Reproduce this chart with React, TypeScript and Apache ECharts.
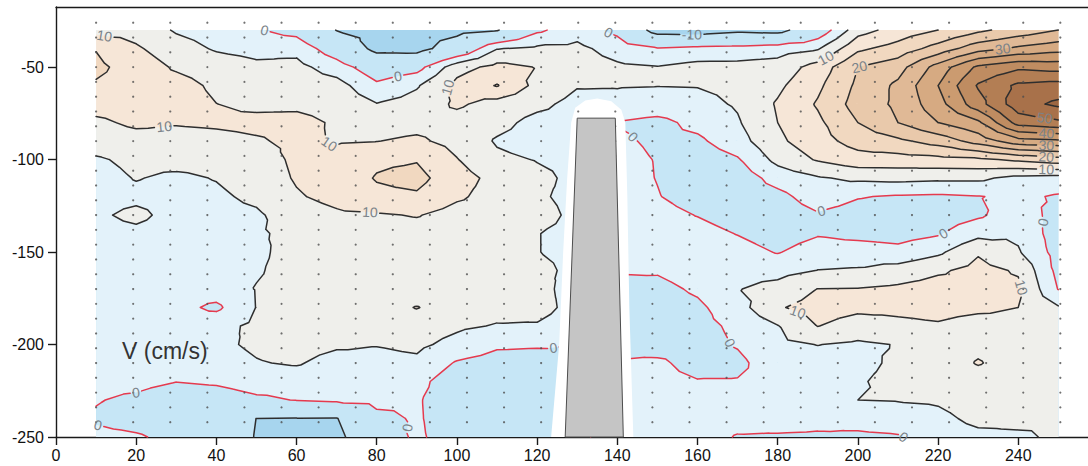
import { useEffect, useRef } from "react";
import * as echarts from "echarts";

// Gridded measurement section: stations across the channel (cm) and depths (cm)
const stationX = [10, 20, 30, 40, 50, 60, 70, 80, 90, 100, 110, 120, 130, 140, 150, 160, 170, 180, 190, 200, 210, 220, 230, 240, 250];
const depthY = [-30, -40, -50, -60, -70, -80, -90, -100, -110, -120, -130, -140, -150, -160, -170, -180, -190, -200, -210, -220, -230, -240, -250];

// Velocity V (cm/s), one row per depth, one value per station
const vAt030 = [8.5, 8, 4.5, 3, 0.5, -2, -10.2, -12.5, -12.5, -12, -10.5, -1, 3, -1.5, -13, -13.5, -11.5, -12.5, -4, 8, 12, 15, 19, 22, 25];
const vAt040 = [14.8, 10.7, 7, 4.5, 3.5, 3.5, -3.5, -12, -12.5, -6, 4.8, 6, 6.2, 3, 0.5, 1.5, 2, 3, 4.5, 14, 17, 22, 28, 31, 33];
const vAt050 = [16, 13, 9.3, 7.5, 6, 6.5, 2.5, -3.5, -2, 8, 11.5, 9.8, 7.5, 5.8, 5.2, 6.5, 6.5, 7, 12, 20, 23, 32, 41, 44, 43];
const vAt060 = [14.5, 13, 12, 9, 8, 8, 7, 1, 4.5, 11.5, 15.3, 8.5, 5.3, 5.2, 5.1, 5.2, 6, 9, 14, 21, 26, 35, 45.5, 51, 52];
const vAt070 = [12, 12.5, 12.5, 10.05, 9, 9.2, 8.5, 5.2, 7, 10.8, 8, 6.2, 3.5, 4, 3, 3.5, 5.5, 10.5, 15.5, 22, 26, 33, 43, 53, 56];
const vAt080 = [9, 11, 10.4, 10.8, 11.2, 11.2, 9.5, 8, 8.5, 8, 6.5, 3.5, 3, -0.3, -1.5, 1.5, 4.5, 10, 14, 20, 25, 30, 34, 47, 49];
const vAt090 = [7, 8, 8, 8.5, 9.5, 11, 9.6, 9.9, 10.8, 8.5, 4.5, 3, 3, 1, -1, -1, 3, 9, 13, 17, 19, 22, 27, 33, 34];
const vAt100 = [4.5, 6, 6.5, 6.5, 7.5, 11, 11.5, 14.2, 14.7, 10.2, 6, 4.8, 4, 2, -0.3, -3, -0.5, 6.5, 10.5, 13, 13, 13.5, 14, 16, 18];
const vAt110 = [3.5, 5.2, 4.2, 5.2, 7, 10.5, 12.5, 15.3, 16.5, 12, 8.5, 6, 4, 2.5, -0.2, -3.5, -3, 2, 4.5, 6, 6.5, 6, 6, 3.5, 3];
const vAt120 = [3.5, 4, 3.5, 4.2, 6, 9.5, 11.5, 14, 14.3, 10.8, 8, 5.5, 4, 3, 0.3, -2.5, -3.5, -1.5, 2.5, 0.3, -0.5, -0.8, -0.2, 1, -0.5];
const vAt130 = [4.3, 6, 3.5, 3.5, 4.3, 7.5, 9.2, 9.5, 10.3, 8, 7.5, 6.5, 4, 3, 2, -0.2, -2.5, -3, -0.5, -2, -2.5, -2.5, -0.8, 3, -2];
const vAt140 = [3.5, 4, 3, 3.5, 4.5, 6, 7.5, 8, 8, 7.5, 7, 5.1, 4, 3, 2.5, 2, -0.2, -2.5, -0.5, -1.5, -2, -0.5, 3.5, 4, -2.5];
const vAt150 = [3, 3, 3, 3.5, 4.2, 6.5, 7, 7.5, 7.5, 7.5, 6.5, 5.1, 4, 2, 2, 3, 2, -0.3, 2.5, 2.5, 1.5, 4, 9.5, 5.5, -2];
const vAt160 = [3, 3, 3, 3.5, 4.6, 6.5, 6.5, 7.5, 7.5, 7.5, 6.5, 6, 4, 0.3, 0.5, 2.5, 3.5, 3.5, 5.1, 5.5, 7, 9.3, 11.5, 9.5, -1.5];
const vAt170 = [3, 2.5, 2.5, 2.5, 5.2, 6.5, 6.5, 7.5, 7.5, 7.5, 7, 6.5, 3, -1, -1.5, 0.8, 4.8, 6.5, 10.1, 10.2, 11, 12, 11.5, 11, -0.2];
const vAt180 = [3, 2.5, 1.5, -1, 5.1, 7, 7, 8, 10.2, 7.5, 6.5, 7, 3, -2, -2.5, -1, 3, 9.5, 12, 11, 11, 11.5, 11, 10, 5.5];
const vAt190 = [2.5, 2.5, 2.5, 3.5, 6, 7, 7, 7.5, 7.5, 5.8, 4.7, 4.5, 2, -2, -3, -1.5, 1, 4.8, 10.1, 8, 9, 9.5, 8, 8.5, 7];
const vAt200 = [2.5, 2.5, 2.5, 4, 5.8, 7, 5.8, 5.2, 6, 3.5, 0.8, 0.5, 0, -1.5, -2.5, -2, 0.4, 4, 5.1, 4.2, 5.2, 8, 9, 8, 7];
const vAt210 = [2, 2.5, 2.5, 3, 4.7, 5.5, 3, 3.5, 4, -0.5, -2, -2, -1, 0.5, 1, -2, -1.2, 3, 3, 3.5, 6, 7.5, 10.3, 8, 7];
const vAt220 = [1.5, 1.5, 0.1, 0.8, 2.5, 2, 2, 2, 1.5, -3, -3, -3, -1, 1.5, 1.5, 0.3, 0.3, 2, 3, 4.5, 6.5, 7, 8, 7.5, 7];
const vAt230 = [0.3, -1, -3, -3, -1, 0.2, 1.1, 1.5, 0.5, -3, -3.5, -3, -1, 2, 1.5, 1.5, 1.5, 2.5, 3.5, 5, 5.2, 5.5, 7, 7, 6];
const vAt240 = [-0.6, -2, -3, -6, -10.05, -10.2, -10.3, -1.5, 0.6, -3, -3.5, -3, -1, 2, 2, 2, 1.5, 2, 1.5, 2, 3, 4, 6, 5.8, 5.2];
const vAt250 = [1.2, 0.6, -1.5, -6, -10.3, -12, -12, -3, 0.8, -2.5, -3, -3, -1, 2, 2, 2, -0.3, -0.5, -0.7, -1, -0.5, 3, 4, 4.5, 5.5];

const velocityRows = [
  vAt030, vAt040, vAt050, vAt060, vAt070, vAt080, vAt090, vAt100, vAt110, vAt120, vAt130, vAt140,
  vAt150, vAt160, vAt170, vAt180, vAt190, vAt200, vAt210, vAt220, vAt230, vAt240, vAt250,
];

// Contour levels and the fill used above each one (first colour is below the lowest level)
const contourLevels = [-10, 0, 5, 10, 15, 20, 25, 30, 35, 40, 45, 50, 55];
const bandColors = [
  "#a7d5ee", "#c6e6f6", "#e3f2fa", "#efefeb", "#f6e6d7", "#f1d8c0", "#e9c9ab",
  "#e0b996", "#d6aa82", "#cb9b70", "#bf8c61", "#b37e54", "#a8714a", "#9d6742",
];

// Measurement points of the survey
const dotStations = [10, 19.25, 28.5, 37.75, 47, 56.25, 65.5, 74.75, 84, 93.25, 102.5, 111.75, 121, 130.25, 139.5, 148.75, 158, 167.25, 176.5, 185.75, 195, 204.25, 213.5, 222.75, 232, 241.25, 250.5];
const dotDepths = [-26, -34, -42, -50, -58, -66, -74, -82, -90, -98, -106, -114, -122, -130, -138, -146, -154, -162, -170, -178, -186, -194, -202, -210, -218, -226, -234, -242];

// Axis ticks
const xTickValues = [0, 20, 40, 60, 80, 100, 120, 140, 160, 180, 200, 220, 240];
const yTickValues = [-250, -200, -150, -100, -50];

// Where contour values are written: [station, depth, level]
const contourLabels: [number, number, number][] = [
  [12, -34, 10], [27, -82.5, 10], [50, -31.5, 0], [85.3, -55, 0], [96, -60, 10],
  [67.6, -93.2, 10], [78.3, -128.4, 10], [137.5, -32.5, 0], [158.6, -31.5, -10],
  [191, -41, 10], [200.5, -51, 20], [236, -38, 30],
  [246.5, -78.6, 50], [247, -86.8, 40], [247, -93, 30], [247, -98.6, 20], [247, -104, 10],
  [143.6, -88.4, 0], [191, -128.4, 0], [221.2, -139.5, 0], [249, -135, 0],
  [241, -169, 10], [184.3, -186.8, 10], [168, -199.2, 0], [20, -226.5, 0],
  [10.5, -243.5, 0], [87.8, -245, 0], [124, -201, 0], [213.7, -248, 0],
];

// Bridge pier and the unsurveyed zone around it
const pierX = [127, 130, 139.5, 141.5];
const pierY = [-250, -77.6, -77.6, -250];
const clearanceX = [123.5, 125.5, 126.5, 127.5, 128.5, 129.5, 132, 135, 138.5, 141, 142, 142.5, 143, 144];
const clearanceY = [-250, -200, -150, -110, -80, -72, -68, -67, -68.5, -73, -80, -120, -180, -250];

const FONT = '"Liberation Sans", Arial, Helvetica, sans-serif';
const LINE_DARK = "#2e2e2e";
const LINE_ZERO = "#e53a4e";
const LABEL_INK = "#7b8389";

type Pt = [number, number, number];
type Seg = [number, number, number, number];
type Coord = (p: number[]) => number[];

function clipAbove(poly: Pt[], level: number): Pt[] {
  const out: Pt[] = [];
  for (let i = 0; i < poly.length; i++) {
    const a = poly[i];
    const b = poly[(i + 1) % poly.length];
    const ain = a[2] >= level;
    const bin = b[2] >= level;
    if (ain) out.push(a);
    if (ain !== bin) {
      const t = (level - a[2]) / (b[2] - a[2]);
      out.push([a[0] + t * (b[0] - a[0]), a[1] + t * (b[1] - a[1]), level]);
    }
  }
  return out;
}

function levelCrossing(tri: Pt[], level: number): Seg | null {
  const pts: number[][] = [];
  for (let k = 0; k < 3; k++) {
    const a = tri[k];
    const b = tri[(k + 1) % 3];
    if ((a[2] >= level) !== (b[2] >= level)) {
      const t = (level - a[2]) / (b[2] - a[2]);
      pts.push([a[0] + t * (b[0] - a[0]), a[1] + t * (b[1] - a[1])]);
    }
  }
  return pts.length === 2 ? [pts[0][0], pts[0][1], pts[1][0], pts[1][1]] : null;
}

type Gap = { x: number; y: number; r: number };

function cutSegment(s: Seg, gaps: Gap[]): Seg[] {
  const dx = s[2] - s[0];
  const dy = s[3] - s[1];
  const A = dx * dx + dy * dy;
  let parts: [number, number][] = [[0, 1]];
  if (A === 0) return [];
  for (const c of gaps) {
    const fx = s[0] - c.x;
    const fy = s[1] - c.y;
    const B = 2 * (fx * dx + fy * dy);
    const C = fx * fx + fy * fy - c.r * c.r;
    const disc = B * B - 4 * A * C;
    if (disc <= 0) continue;
    const sq = Math.sqrt(disc);
    const t1 = (-B - sq) / (2 * A);
    const t2 = (-B + sq) / (2 * A);
    const next: [number, number][] = [];
    for (const [a, b] of parts) {
      if (t2 <= a || t1 >= b) {
        next.push([a, b]);
        continue;
      }
      if (t1 > a) next.push([a, t1]);
      if (t2 < b) next.push([t2, b]);
    }
    parts = next;
  }
  return parts.map(([a, b]) => [s[0] + a * dx, s[1] + a * dy, s[0] + b * dx, s[1] + b * dy] as Seg);
}

const f = (n: number) => n.toFixed(1);

function buildGeometry(coord: Coord) {
  const nx = stationX.length;
  const ny = depthY.length;
  const px = stationX.map((x) => coord([x, depthY[0]])[0]);
  const py = depthY.map((y) => coord([stationX[0], y])[1]);
  const node = (i: number, j: number): Pt => [px[i], py[j], velocityRows[j][i]];

  // four triangles per cell around the cell centre
  const cellTris: Pt[][][] = [];
  for (let j = 0; j < ny - 1; j++) {
    for (let i = 0; i < nx - 1; i++) {
      const a = node(i, j), b = node(i + 1, j), c = node(i + 1, j + 1), d = node(i, j + 1);
      const m: Pt = [(a[0] + b[0]) / 2, (a[1] + d[1]) / 2, (a[2] + b[2] + c[2] + d[2]) / 4];
      cellTris.push([[a, b, m], [b, c, m], [c, d, m], [d, a, m]]);
    }
  }

  const base = `M${f(px[0])} ${f(py[0])}L${f(px[nx - 1])} ${f(py[0])}L${f(px[nx - 1])} ${f(py[ny - 1])}L${f(px[0])} ${f(py[ny - 1])}Z`;

  const fills = contourLevels.map((level) => {
    let d = "";
    for (let j = 0; j < ny - 1; j++) {
      let runStart = -1;
      for (let i = 0; i <= nx - 1; i++) {
        const full =
          i < nx - 1 &&
          Math.min(velocityRows[j][i], velocityRows[j][i + 1], velocityRows[j + 1][i], velocityRows[j + 1][i + 1]) >= level;
        if (full) {
          if (runStart < 0) runStart = i;
          continue;
        }
        if (runStart >= 0) {
          d += `M${f(px[runStart])} ${f(py[j])}L${f(px[i])} ${f(py[j])}L${f(px[i])} ${f(py[j + 1])}L${f(px[runStart])} ${f(py[j + 1])}Z`;
          runStart = -1;
        }
        if (i === nx - 1) break;
        for (const tri of cellTris[j * (nx - 1) + i]) {
          const poly = clipAbove(tri, level);
          if (poly.length < 3) continue;
          d += "M" + poly.map((p) => `${f(p[0])} ${f(p[1])}`).join("L") + "Z";
        }
      }
    }
    return d;
  });

  const segments: Seg[][] = contourLevels.map((level) => {
    const out: Seg[] = [];
    for (const tris of cellTris) {
      for (const tri of tris) {
        const s = levelCrossing(tri, level);
        if (s) out.push(s);
      }
    }
    return out;
  });

  const labels = contourLabels.map(([lx, ly, level]) => {
    const k = contourLevels.indexOf(level);
    const [tx, ty] = coord([lx, ly]);
    let best: { x: number; y: number; s: Seg } | null = null;
    let bestD = Infinity;
    for (const s of segments[k] || []) {
      const dx = s[2] - s[0];
      const dy = s[3] - s[1];
      const L2 = dx * dx + dy * dy || 1;
      let t = ((tx - s[0]) * dx + (ty - s[1]) * dy) / L2;
      t = Math.max(0, Math.min(1, t));
      const cx = s[0] + t * dx;
      const cy = s[1] + t * dy;
      const dd = (cx - tx) ** 2 + (cy - ty) ** 2;
      if (dd < bestD) {
        bestD = dd;
        best = { x: cx, y: cy, s };
      }
    }
    let x = tx, y = ty, rotation = 0;
    if (best && bestD < 30 * 30) {
      x = best.x;
      y = best.y;
      let rot = -Math.atan2(best.s[3] - best.s[1], best.s[2] - best.s[0]);
      while (rot > Math.PI / 2) rot -= Math.PI;
      while (rot <= -Math.PI / 2) rot += Math.PI;
      rotation = rot;
    }
    const text = String(level);
    const width = text.replace("-", "").length * 7.8 + (text.startsWith("-") ? 4.7 : 0);
    return { x, y, rotation, text, k, r: width / 2 + 2 };
  });

  const lines = segments.map((segs, k) => {
    const gaps = labels.filter((l) => l.k === k);
    let d = "";
    for (const s of segs) {
      for (const p of cutSegment(s, gaps)) d += `M${f(p[0])} ${f(p[1])}L${f(p[2])} ${f(p[3])}`;
    }
    return d;
  });

  return { base, fills, lines, labels };
}

function renderField(_params: any, api: any) {
  const coord: Coord = (p) => api.coord(p);
  const g = buildGeometry(coord);
  const children: any[] = [];
  children.push({ type: "path", shape: { pathData: g.base }, style: { fill: bandColors[0] } });
  g.fills.forEach((d, k) => {
    if (d) children.push({ type: "path", shape: { pathData: d }, style: { fill: bandColors[k + 1] } });
  });
  g.lines.forEach((d, k) => {
    if (!d) return;
    children.push({
      type: "path",
      shape: { pathData: d },
      style: {
        fill: "none",
        stroke: contourLevels[k] === 0 ? LINE_ZERO : LINE_DARK,
        lineWidth: 1.5,
        lineCap: "round",
        lineJoin: "round",
      },
    });
  });
  children.push({
    type: "polygon",
    shape: { points: clearanceX.map((x, i) => coord([x, clearanceY[i]])) },
    style: { fill: "#ffffff" },
  });
  return { type: "group", children };
}

function renderPier(_params: any, api: any) {
  const coord: Coord = (p) => api.coord(p);
  const g = buildGeometry(coord);
  const children: any[] = [
    {
      type: "polygon",
      shape: { points: pierX.map((x, i) => coord([x, pierY[i]])) },
      style: { fill: "#c5c5c5", stroke: "#4d4d4d", lineWidth: 1 },
    },
  ];
  for (const l of g.labels) {
    children.push({
      type: "text",
      x: l.x,
      y: l.y,
      rotation: l.rotation,
      style: {
        text: l.text,
        x: 0,
        y: 0,
        fill: LABEL_INK,
        fontSize: 14,
        fontFamily: FONT,
        align: "center",
        verticalAlign: "middle",
      },
    });
  }
  return { type: "group", children };
}

export default function App() {
  const ref = useRef<HTMLDivElement>(null);

  useEffect(() => {
    if (!ref.current) return;
    const chart = echarts.init(ref.current, null, { renderer: "svg" });
    const dots = dotDepths.flatMap((y) => dotStations.map((x) => [x, y]));
    const axisLabel = { fontSize: 16, color: "#111", fontFamily: FONT };
    chart.setOption({
      animation: false,
      backgroundColor: "#ffffff",
      grid: { left: 56, right: 0, top: 7, bottom: 29, containLabel: false },
      xAxis: [
        {
          type: "value",
          min: 0,
          max: 257.4,
          position: "bottom",
          axisLine: { show: true, onZero: false, lineStyle: { color: "#1a1a1a", width: 1.4 } },
          axisTick: { show: true, length: 8, customValues: xTickValues, lineStyle: { color: "#1a1a1a", width: 1.4 } },
          axisLabel: { ...axisLabel, margin: 10, customValues: xTickValues },
          splitLine: { show: false },
        },
        {
          type: "value",
          min: 0,
          max: 257.4,
          position: "top",
          axisLine: { show: true, onZero: false, lineStyle: { color: "#1a1a1a", width: 1.4 } },
          axisTick: { show: false },
          axisLabel: { show: false },
          splitLine: { show: false },
        },
      ],
      yAxis: {
        type: "value",
        min: -250,
        max: -17.5,
        axisLine: { show: true, onZero: false, lineStyle: { color: "#1a1a1a", width: 1.4 } },
        axisTick: { show: true, length: 8, customValues: yTickValues, lineStyle: { color: "#1a1a1a", width: 1.4 } },
        axisLabel: { ...axisLabel, margin: 12, customValues: yTickValues },
        splitLine: { show: false },
      },
      graphic: [
        {
          type: "text",
          left: 122,
          top: 339,
          style: { text: "V (cm/s)", fontSize: 23, fill: "#333333", fontFamily: FONT },
          z: 100,
        },
      ],
      series: [
        {
          type: "custom",
          name: "V",
          coordinateSystem: "cartesian2d",
          renderItem: renderField,
          data: [[130, -100]],
          clip: false,
          silent: true,
          z: 2,
        },
        {
          type: "scatter",
          name: "stations",
          data: dots,
          symbol: "circle",
          symbolSize: 2.2,
          itemStyle: { color: "#4d4d4d" },
          silent: true,
          z: 3,
        },
        {
          type: "custom",
          name: "pier",
          coordinateSystem: "cartesian2d",
          renderItem: renderPier,
          data: [[130, -100]],
          clip: false,
          silent: true,
          z: 4,
        },
      ],
    });
    return () => chart.dispose();
  }, []);

  return (
    <div
      ref={ref}
      style={{ position: "absolute", left: 0, top: 0, width: 1088, height: 466, background: "#fff" }}
    />
  );
}
